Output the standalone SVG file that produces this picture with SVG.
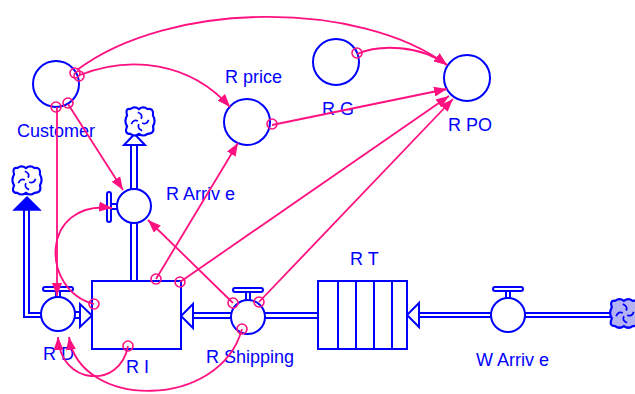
<svg xmlns="http://www.w3.org/2000/svg" width="635" height="394" viewBox="0 0 635 394">
<style>
.b{fill:none;stroke:#0000FF;stroke-width:2}
.bw{fill:#fff;stroke:#0000FF;stroke-width:2}
.bf{fill:#0000FF;stroke:#0000FF;stroke-width:1.5}
.c{fill:none;stroke:#FF1080;stroke-width:1.8}
.o{fill:none;stroke:#FF1080;stroke-width:1.6}
.l{font-family:"Liberation Sans",Arial,sans-serif;font-size:18px;fill:#0000FF}
</style>
<defs>
<marker id="ah" markerUnits="userSpaceOnUse" markerWidth="14" markerHeight="10" refX="13" refY="5" orient="auto">
<path d="M0,0 L13,5 L0,10 Z" fill="#FF1080"/>
</marker>
<g id="cloud">
<path d="M-9,-12 Q-5,-15 -1,-12 Q3,-15 7,-12 Q13,-13 12,-6 Q15,-1 12,4 Q14,11 7,11 Q3,14 -1,11 Q-5,14 -9,11 Q-15,11 -12,4 Q-15,-1 -12,-6 Q-14,-13 -9,-12 Z" stroke="#0000FF" stroke-width="2"/>
<g fill="none" stroke="#0000FF" stroke-width="1.6">
<path d="M-2,-9 Q3,-7 1,-3"/>
<path d="M8,-2 Q6,3 2,1"/>
<path d="M2,8 Q-3,6 -1,2"/>
<path d="M-8,2 Q-6,-3 -2,-1"/>
</g>
</g>
</defs>

<g id="pipes">
<path class="b" d="M131,189 L131,145 M137,189 L137,145"/>
<path class="bw" d="M124,145 L145,145 L134.5,134 Z"/>
<path class="b" d="M131,223 L131,281 M137,223 L137,281"/>
<path class="b" d="M41,317 L24,317 L24,210 M41,313 L29,313 L29,210"/>
<path class="bf" d="M14,210 L40,210 L27,197 Z"/>
<path class="b" d="M75,312 L80,312 M75,318 L80,318"/>
<path class="bw" d="M80,304 L80,327 L92,315.5 Z"/>
<path class="b" d="M193,313 L231,313 M193,318 L231,318"/>
<path class="bw" d="M193,304 L193,328 L181,316 Z"/>
<path class="b" d="M265,313 L318,313 M265,318 L318,318"/>
<path class="b" d="M419,313 L491,313 M419,317 L491,317"/>
<path class="bw" d="M419,303 L419,327 L407,315 Z"/>
<path class="b" d="M525,313 L612,313 M525,317 L612,317"/>
</g>

<g id="cloud-arrive"><use href="#cloud" transform="translate(140,122) scale(1.08)" fill="#fff"/></g>
<g id="cloud-d"><use href="#cloud" transform="translate(27,181) scale(1.08)" fill="#fff"/></g>
<g id="cloud-w"><use href="#cloud" transform="translate(625,314) scale(1.1)" fill="#B4B4F4"/></g>

<g id="Customer">
<circle class="bw" cx="56" cy="84" r="23"/>
<text class="l" x="17" y="137">Customer</text>
</g>
<g id="R_price">
<circle class="bw" cx="247" cy="122" r="23"/>
<text class="l" x="225" y="83">R price</text>
</g>
<g id="R_G">
<circle class="bw" cx="336" cy="62" r="23"/>
<text class="l" x="322" y="115">R G</text>
</g>
<g id="R_PO">
<circle class="bw" cx="467" cy="78" r="23"/>
<text class="l" x="448" y="131">R PO</text>
</g>
<g id="R_Arrive">
<rect class="bw" x="107" y="192" width="4" height="30" rx="2"/>
<path class="b" d="M111,204 L118,204 M111,209 L118,209"/>
<circle class="bw" cx="134" cy="206" r="17"/>
<text class="l" x="166" y="200">R Arriv e</text>
</g>
<g id="R_I">
<rect class="bw" x="92" y="281" width="89" height="68"/>
<text class="l" x="126" y="373">R I</text>
</g>
<g id="R_D">
<rect class="bw" x="43" y="287" width="30" height="4" rx="2"/>
<path class="b" d="M56,291 L56,297 M60,291 L60,297"/>
<circle class="bw" cx="58" cy="314" r="17"/>
<text class="l" x="43" y="360">R D</text>
</g>
<g id="R_Shipping">
<rect class="bw" x="233" y="288" width="30" height="4" rx="2"/>
<path class="b" d="M246,292 L246,300 M250,292 L250,300"/>
<circle class="bw" cx="248" cy="317" r="17"/>
<text class="l" x="206" y="363">R Shipping</text>
</g>
<g id="R_T">
<rect class="bw" x="318" y="281" width="89" height="68"/>
<path class="b" d="M338,281 L338,349 M374,281 L374,349"/>
<path class="b" stroke-width="3.5" d="M356,281 L356,349 M392,281 L392,349"/>
<text class="l" x="350" y="265">R T</text>
</g>
<g id="W_Arrive">
<rect class="bw" x="493" y="287" width="30" height="4" rx="2"/>
<path class="b" d="M506,291 L506,298 M510,291 L510,298"/>
<circle class="bw" cx="508" cy="315" r="17"/>
<text class="l" x="476" y="366">W Arriv e</text>
</g>

<g id="connectors">
<path class="c" d="M77,70 C170,0 360,0 447,65" marker-end="url(#ah)"/>
<path class="c" d="M80,75 C130,55 190,62 230,107" marker-end="url(#ah)"/>
<path class="c" d="M68,104 L123,190" marker-end="url(#ah)"/>
<path class="c" d="M57,107 L57,296" marker-end="url(#ah)"/>
<path class="c" d="M357,54 C380,44 420,45 447,65" marker-end="url(#ah)"/>
<path class="c" d="M272,125 L447,89" marker-end="url(#ah)"/>
<path class="c" d="M156,279 L238,143" marker-end="url(#ah)"/>
<path class="c" d="M180,282 L449,96" marker-end="url(#ah)"/>
<path class="c" d="M259,302 L453,99" marker-end="url(#ah)"/>
<path class="c" d="M233,303 L148,220" marker-end="url(#ah)"/>
<path class="c" d="M242,329 C220,410 80,410 69,337" marker-end="url(#ah)"/>
<path class="c" d="M128,346 C120,390 60,385 58,337" marker-end="url(#ah)"/>
<path class="c" d="M94,304 C40,290 40,200 112,208" marker-end="url(#ah)"/>
<circle class="o" cx="75" cy="73" r="5"/>
<circle class="o" cx="79" cy="76" r="5"/>
<circle class="o" cx="56" cy="107" r="5"/>
<circle class="o" cx="68" cy="103" r="5"/>
<circle class="o" cx="357" cy="53" r="5"/>
<circle class="o" cx="272" cy="124" r="5"/>
<circle class="o" cx="156" cy="279" r="5"/>
<circle class="o" cx="180" cy="282" r="5"/>
<circle class="o" cx="94" cy="304" r="5"/>
<circle class="o" cx="128" cy="346" r="5"/>
<circle class="o" cx="233" cy="303" r="5"/>
<circle class="o" cx="259" cy="302" r="5"/>
<circle class="o" cx="242" cy="329" r="5"/>
</g>
</svg>
